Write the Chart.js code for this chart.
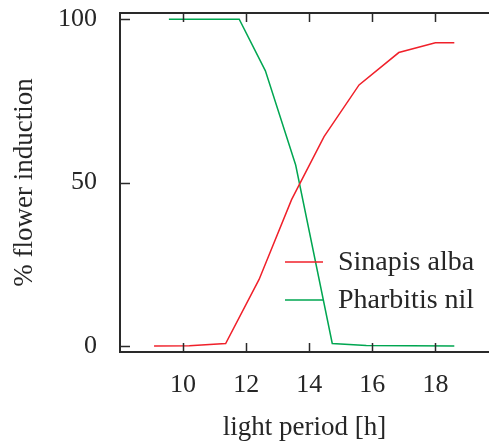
<!DOCTYPE html>
<html>
<head>
<meta charset="utf-8">
<script src="https://cdn.jsdelivr.net/npm/chart.js@4/dist/chart.umd.min.js"></script>
<style>
  html, body { margin: 0; padding: 0; background: #fff; }
  #wrap { width: 489px; height: 444px; position: relative; }
</style>
</head>
<body>
<div id="wrap"><canvas id="c"></canvas></div>
<script>
/* ---------- Dados ---------- */
const hoursSinapis   = [9.08, 10.2, 11.35, 12.41, 13.44, 14.47, 15.58, 16.84, 18.0, 18.6];
const sinapisAlba    = [0, 0.1, 0.8, 20.4, 44.8, 64.1, 79.9, 89.8, 92.8, 92.8];
const hoursPharbitis = [9.55, 11.78, 12.61, 13.57, 14.73, 15.81, 18.6];
const pharbitisNil   = [100, 100, 84.2, 55.4, 0.8, 0.2, 0];
const xTicks = [10, 12, 14, 16, 18];
const yTicks = [0, 50, 100];

const TXT = '#262626';
const FONT = 'Liberation Serif';

const toPts = (xs, ys) => xs.map((x, k) => ({ x, y: ys[k] }));

/* ---------- Moldura + ticks internos (estilo gnuplot) ---------- */
const framePlugin = {
  id: 'frame',
  afterDatasetsDraw(chart) {
    const { ctx, chartArea: a, scales: { x, y } } = chart;
    ctx.save();
    ctx.strokeStyle = '#2a2a2a';
    ctx.lineWidth = 2;
    ctx.beginPath();
    ctx.moveTo(a.right + 2, a.top); ctx.lineTo(a.left, a.top);
    ctx.lineTo(a.left, a.bottom); ctx.lineTo(a.right + 2, a.bottom);
    ctx.stroke();
    ctx.lineWidth = 1.5;
    ctx.beginPath();
    xTicks.forEach(v => {
      const px = Math.round(x.getPixelForValue(v)) + 0.5;
      ctx.moveTo(px, a.bottom); ctx.lineTo(px, a.bottom - 9);
      ctx.moveTo(px, a.top);    ctx.lineTo(px, a.top + 9);
    });
    yTicks.forEach(v => {
      const py = Math.round(y.getPixelForValue(v)) + 0.5;
      ctx.moveTo(a.left, py); ctx.lineTo(a.left + 10, py);
    });
    ctx.stroke();
    ctx.restore();
  }
};

/* ---------- Legenda dentro do gráfico ---------- */
const keyPlugin = {
  id: 'keyLegend',
  afterDatasetsDraw(chart) {
    const { ctx } = chart;
    ctx.save();
    ctx.font = '28px "' + FONT + '"';
    ctx.textBaseline = 'middle';
    ctx.fillStyle = TXT;
    chart.data.datasets.forEach((ds, k) => {
      const yy = 262 + k * 38;
      ctx.strokeStyle = ds.borderColor;
      ctx.lineWidth = 1.5;
      ctx.beginPath();
      ctx.moveTo(285, yy); ctx.lineTo(323, yy);
      ctx.stroke();
      ctx.fillText(ds.label, 338, yy + 1);
    });
    ctx.restore();
  }
};

new Chart(document.getElementById('c'), {
  type: 'line',
  data: {
    datasets: [
      {
        label: 'Sinapis alba',
        data: toPts(hoursSinapis, sinapisAlba),
        borderColor: '#f0202a',
        borderWidth: 1.5, pointRadius: 0, tension: 0, fill: false,
      },
      {
        label: 'Pharbitis nil',
        data: toPts(hoursPharbitis, pharbitisNil),
        borderColor: '#00a651',
        borderWidth: 1.5, pointRadius: 0, tension: 0, fill: false,
      },
    ],
  },
  options: {
    responsive: true,
    maintainAspectRatio: false,
    animation: false,
    layout: { padding: { left: 0, top: 13, right: 0, bottom: 0 } },
    plugins: { legend: { display: false }, tooltip: { enabled: false } },
    scales: {
      x: {
        type: 'linear', min: 8, max: 19.7,
        afterBuildTicks: s => { s.ticks = xTicks.map(v => ({ value: v })); },
        afterFit: s => { s.height = 92; s.paddingLeft = 0; s.paddingRight = 0; },
        grid: { display: false, drawTicks: false },
        border: { display: false },
        ticks: { color: TXT, padding: 18, maxRotation: 0, font: { family: FONT, size: 26 } },
        title: {
          display: true, text: 'light period [h]', color: TXT,
          font: { family: FONT, size: 27 }, padding: { top: 0, bottom: 0 },
        },
      },
      y: {
        type: 'linear', min: -1.8, max: 101.9,
        afterBuildTicks: s => { s.ticks = yTicks.map(v => ({ value: v })); },
        afterFit: s => { s.width = 120; s.paddingTop = 0; s.paddingBottom = 0; },
        grid: { display: false, drawTicks: false },
        border: { display: false },
        ticks: { color: TXT, padding: 23, font: { family: FONT, size: 26 } },
        title: {
          display: true, text: '% flower induction', color: TXT,
          font: { family: FONT, size: 27 }, padding: { top: 9, bottom: 0 },
        },
      },
    },
  },
  plugins: [framePlugin, keyPlugin],
});
</script>
</body>
</html>
